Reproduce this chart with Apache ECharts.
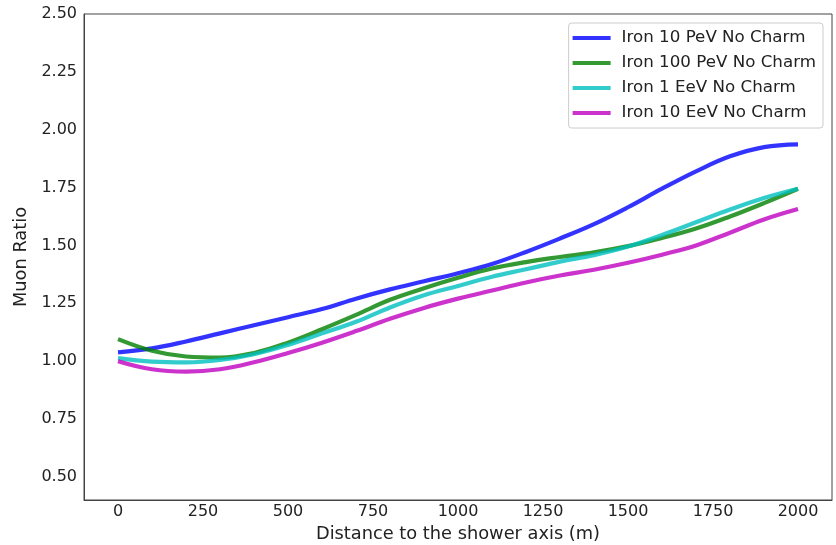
<!DOCTYPE html>
<html>
<head>
<meta charset="utf-8">
<script src="https://cdn.jsdelivr.net/npm/echarts@6/dist/echarts.min.js"></script>
<style>html,body{margin:0;padding:0;background:#fff}#c{width:836px;height:545px}</style>
</head>
<body>
<div id="c"></div>
<script>
var distances = [0,100,200,300,400,500,600,700,800,900,1000,1100,1200,1300,1400,1500,1600,1700,1800,1900,2000];
var iron10PeV  = [1.038,1.055,1.085,1.12,1.155,1.19,1.225,1.27,1.31,1.345,1.38,1.42,1.472,1.53,1.592,1.665,1.745,1.82,1.885,1.925,1.937];
var iron100PeV = [1.095,1.045,1.02,1.015,1.035,1.08,1.138,1.20,1.265,1.315,1.36,1.40,1.428,1.45,1.47,1.497,1.532,1.573,1.625,1.683,1.745];
var iron1EeV   = [1.013,0.998,0.995,1.005,1.03,1.07,1.12,1.17,1.232,1.285,1.325,1.365,1.397,1.43,1.458,1.495,1.545,1.60,1.655,1.705,1.745];
var iron10EeV  = [1.0,0.965,0.955,0.965,0.995,1.035,1.08,1.13,1.183,1.23,1.27,1.305,1.34,1.37,1.395,1.425,1.46,1.50,1.555,1.612,1.657];
var seriesNames = ['Iron 10 PeV No Charm','Iron 100 PeV No Charm','Iron 1 EeV No Charm','Iron 10 EeV No Charm'];
var xTicks = [0,250,500,750,1000,1250,1500,1750,2000];
var yTicks = [0.5,0.75,1.0,1.25,1.5,1.75,2.0,2.25,2.5];

var colors = ['rgba(0,0,255,0.8)','rgba(0,128,0,0.8)','rgba(0,191,191,0.8)','rgba(191,0,191,0.8)'];
var allValues = [iron10PeV, iron100PeV, iron1EeV, iron10EeV];
function pairs(vals){ return distances.map(function(d,i){ return [d, vals[i]]; }); }
var FONT = 'DejaVu Sans';

var chart = echarts.init(document.getElementById('c'), null, {renderer:'canvas'});
chart.setOption({
  animation: false,
  backgroundColor: '#fff',
  grid: {left: 84, right: 4, top: 14, bottom: 45, show: true, borderColor: '#444', borderWidth: 1,
         backgroundColor: 'transparent', containLabel: false, outerBoundsMode: 'none'},
  legend: {
    orient: 'vertical', right: 13, top: 23,
    icon: 'rect', itemWidth: 38, itemHeight: 4, itemGap: 5,
    padding: [5, 7, 5, 4],
    borderColor: '#cccccc', borderWidth: 1, borderRadius: 3,
    backgroundColor: 'rgba(255,255,255,0.8)',
    textStyle: {fontFamily: FONT, fontSize: 16.7, color: '#222', lineHeight: 20, padding: [0,0,0,6]},
    data: seriesNames
  },
  xAxis: {
    type: 'value', min: -100, max: 2100,
    name: 'Distance to the shower axis (m)', nameLocation: 'middle', nameGap: 22,
    nameTextStyle: {fontFamily: FONT, fontSize: 17.8, color: '#222'},
    axisLine: {show: true, onZero: false, lineStyle: {color: '#444', width: 1}},
    axisTick: {show: false},
    splitLine: {show: false},
    axisLabel: {customValues: xTicks, fontFamily: FONT, fontSize: 16, color: '#222', margin: 4,
      formatter: function(v){ return String(v); }}
  },
  yAxis: {
    type: 'value', min: 0.4, max: 2.5,
    name: 'Muon Ratio', nameLocation: 'middle', nameGap: 50,
    nameTextStyle: {fontFamily: FONT, fontSize: 17.8, color: '#222'},
    axisLine: {show: true, onZero: false, lineStyle: {color: '#444', width: 1}},
    axisTick: {show: false},
    splitLine: {show: false},
    axisLabel: {customValues: yTicks, fontFamily: FONT, fontSize: 16, color: '#222', margin: 7,
      formatter: function(v){ return v.toFixed(2); }}
  },
  series: allValues.map(function(vals, i){
    return {
      name: seriesNames[i], type: 'line', smooth: 0.4, symbol: 'none',
      data: pairs(vals),
      itemStyle: {color: colors[i]},
      lineStyle: {color: colors[i], width: 4.2}
    };
  })
});
</script>
</body>
</html>
